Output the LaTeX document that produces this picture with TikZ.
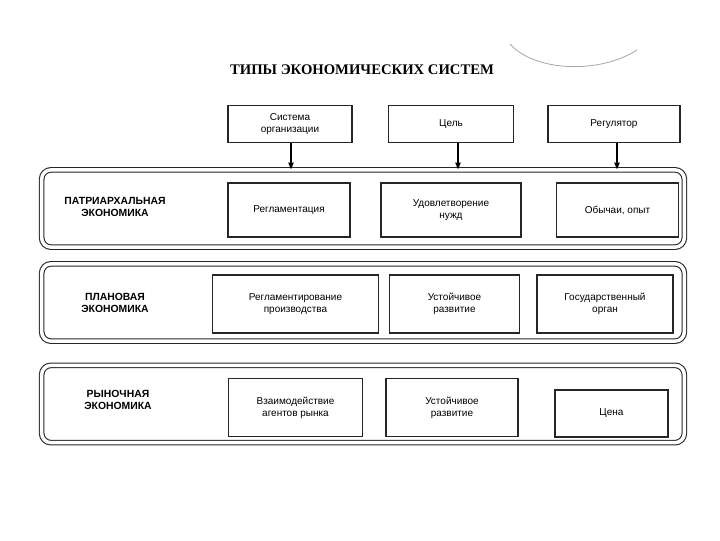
\documentclass[tikz,border=0pt]{standalone}
\usepackage{fontspec}
\setmainfont{Liberation Sans}
\newfontfamily\titlefont{Liberation Serif}
\usetikzlibrary{arrows.meta}

\begin{document}
\begin{tikzpicture}[x=0.75pt,y=-0.75pt,
  cell/.style={draw=black!85,line width=0.9pt,align=center,inner sep=2pt,
    font=\fontsize{7.5}{9}\selectfont},
  frame/.style={draw=black!85,double,double distance=2.6pt,line width=0.8pt,
    rounded corners=7pt,minimum width=482pt,minimum height=58pt},
  kind/.style={align=center,font=\fontsize{7.8}{9.5}\selectfont\bfseries},
  arr/.style={-{Triangle[length=5pt,width=4pt]},line width=0.8pt}]
\useasboundingbox (0,0) rectangle (720,540);

\node[font=\titlefont\bfseries\fontsize{11}{13}\selectfont] (title) at (362,70) {ТИПЫ ЭКОНОМИЧЕСКИХ СИСТЕМ};
\draw[black!35,line width=0.6pt] (510,44) .. controls (535,72) and (600,74) .. (637,50);

% headers
\node[cell,minimum width=93pt,minimum height=27.5pt] (org) at (290,124) {Система\\организации};
\node[cell,minimum width=94pt,minimum height=27.5pt] (goal) at (451,124) {Цель};
\node[cell,minimum width=99pt,minimum height=27.5pt] (reg) at (614,124) {Регулятор};

% rows
\node[frame] (patr) at (363,208.5) {};
\node[frame] (plan) at (363,302.5) {};
\node[frame] (mark) at (363,404) {};

\draw[arr] (org.south -| 291,0) -- (291,0 |- patr.north);
\draw[arr] (goal.south -| 458,0) -- (458,0 |- patr.north);
\draw[arr] (reg.south -| 617,0) -- (617,0 |- patr.north);

\node[kind] (patrname) at (115,207) {ПАТРИАРХАЛЬНАЯ\\ЭКОНОМИКА};
\node[cell,minimum width=91.5pt,minimum height=40.5pt] (p1) at (289,210) {Регламентация};
\node[cell,minimum width=105pt,minimum height=40.5pt] (p2) at (451,210) {Удовлетворение\\нужд};
\node[cell,minimum width=92pt,minimum height=40.5pt] (p3) at (617.5,210) {Обычаи, опыт};

\node[kind] (planname) at (115,303) {ПЛАНОВАЯ\\ЭКОНОМИКА};
\node[cell,minimum width=124pt,minimum height=43.5pt] (q1) at (295.5,304) {Регламентирование\\производства};
\node[cell,minimum width=97pt,minimum height=43.5pt] (q2) at (454.5,304) {Устойчивое\\развитие};
\node[cell,minimum width=102pt,minimum height=43.5pt] (q3) at (605,304) {Государственный\\орган};

\node[kind] (markname) at (118,400) {РЫНОЧНАЯ\\ЭКОНОМИКА};
\node[cell,minimum width=100pt,minimum height=44pt] (r1) at (295.5,407.5) {Взаимодействие\\агентов рынка};
\node[cell,minimum width=99pt,minimum height=44pt] (r2) at (452,407.5) {Устойчивое\\развитие};
\node[cell,line width=1.3pt,minimum width=85pt,minimum height=35pt] (r3) at (611.5,413.5) {Цена};
\end{tikzpicture}
\end{document}
